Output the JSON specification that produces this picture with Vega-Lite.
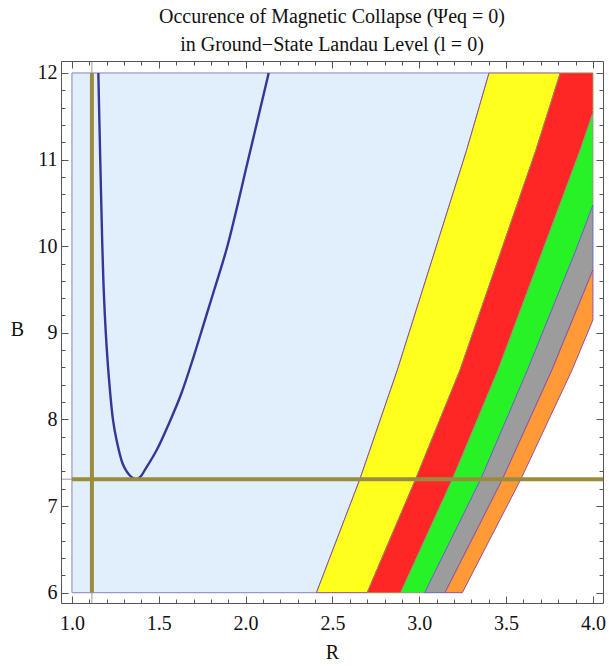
{
  "$schema": "https://vega.github.io/schema/vega-lite/v6.json",
  "width": 542,
  "height": 542,
  "autosize": "none",
  "padding": {"left": 61, "top": 61, "right": 6, "bottom": 63},
  "background": "white",
  "title": {
    "text": ["Occurence of Magnetic Collapse (Ψeq = 0)", "in Ground−State Landau Level (l = 0)"],
    "font": "Liberation Serif",
    "fontSize": 20,
    "fontWeight": "normal",
    "color": "#111",
    "anchor": "middle",
    "offset": 6,
    "lineHeight": 28
  },
  "config": {
    "view": {"stroke": null},
    "axis": {
      "labelFont": "Liberation Serif",
      "titleFont": "Liberation Serif",
      "labelFontSize": 20,
      "titleFontSize": 20,
      "titleFontWeight": "normal",
      "labelColor": "#111",
      "titleColor": "#111",
      "domainColor": "#555",
      "tickColor": "#555",
      "grid": false
    }
  },
  "datasets": {
    "poly": [
      {"b": "blue", "o": 1, "x": 1, "y": 6},
      {"b": "blue", "o": 2, "x": 2.408, "y": 6},
      {"b": "blue", "o": 3, "x": 2.658, "y": 7.31},
      {"b": "blue", "o": 4, "x": 2.874, "y": 8.572},
      {"b": "blue", "o": 5, "x": 3.273, "y": 11.11},
      {"b": "blue", "o": 6, "x": 3.402, "y": 12},
      {"b": "blue", "o": 7, "x": 1, "y": 12},
      {"b": "blue", "o": 8, "x": 1, "y": 6},
      {"b": "yellow", "o": 1, "x": 2.408, "y": 6},
      {"b": "yellow", "o": 2, "x": 2.7, "y": 6},
      {"b": "yellow", "o": 3, "x": 2.979, "y": 7.31},
      {"b": "yellow", "o": 4, "x": 3.235, "y": 8.572},
      {"b": "yellow", "o": 5, "x": 3.672, "y": 11.11},
      {"b": "yellow", "o": 6, "x": 3.812, "y": 12},
      {"b": "yellow", "o": 7, "x": 3.402, "y": 12},
      {"b": "yellow", "o": 8, "x": 3.273, "y": 11.11},
      {"b": "yellow", "o": 9, "x": 2.874, "y": 8.572},
      {"b": "yellow", "o": 10, "x": 2.658, "y": 7.31},
      {"b": "yellow", "o": 11, "x": 2.408, "y": 6},
      {"b": "red", "o": 1, "x": 2.7, "y": 6},
      {"b": "red", "o": 2, "x": 2.893, "y": 6},
      {"b": "red", "o": 3, "x": 3.191, "y": 7.31},
      {"b": "red", "o": 4, "x": 3.454, "y": 8.572},
      {"b": "red", "o": 5, "x": 3.927, "y": 11.11},
      {"b": "red", "o": 6, "x": 4, "y": 11.54},
      {"b": "red", "o": 7, "x": 4, "y": 12},
      {"b": "red", "o": 8, "x": 3.812, "y": 12},
      {"b": "red", "o": 9, "x": 3.672, "y": 11.11},
      {"b": "red", "o": 10, "x": 3.235, "y": 8.572},
      {"b": "red", "o": 11, "x": 2.979, "y": 7.31},
      {"b": "red", "o": 12, "x": 2.7, "y": 6},
      {"b": "green", "o": 1, "x": 2.893, "y": 6},
      {"b": "green", "o": 2, "x": 3.031, "y": 6},
      {"b": "green", "o": 3, "x": 3.354, "y": 7.31},
      {"b": "green", "o": 4, "x": 3.623, "y": 8.572},
      {"b": "green", "o": 5, "x": 3.902, "y": 9.956},
      {"b": "green", "o": 6, "x": 4, "y": 10.475},
      {"b": "green", "o": 7, "x": 4, "y": 11.54},
      {"b": "green", "o": 8, "x": 3.927, "y": 11.11},
      {"b": "green", "o": 9, "x": 3.454, "y": 8.572},
      {"b": "green", "o": 10, "x": 3.191, "y": 7.31},
      {"b": "green", "o": 11, "x": 2.893, "y": 6},
      {"b": "gray", "o": 1, "x": 3.031, "y": 6},
      {"b": "gray", "o": 2, "x": 3.148, "y": 6},
      {"b": "gray", "o": 3, "x": 3.479, "y": 7.31},
      {"b": "gray", "o": 4, "x": 3.556, "y": 7.65},
      {"b": "gray", "o": 5, "x": 3.764, "y": 8.572},
      {"b": "gray", "o": 6, "x": 4, "y": 9.725},
      {"b": "gray", "o": 7, "x": 4, "y": 10.475},
      {"b": "gray", "o": 8, "x": 3.902, "y": 9.956},
      {"b": "gray", "o": 9, "x": 3.623, "y": 8.572},
      {"b": "gray", "o": 10, "x": 3.354, "y": 7.31},
      {"b": "gray", "o": 11, "x": 3.031, "y": 6},
      {"b": "orange", "o": 1, "x": 3.148, "y": 6},
      {"b": "orange", "o": 2, "x": 3.248, "y": 6},
      {"b": "orange", "o": 3, "x": 3.585, "y": 7.31},
      {"b": "orange", "o": 4, "x": 3.88, "y": 8.572},
      {"b": "orange", "o": 5, "x": 4, "y": 9.149},
      {"b": "orange", "o": 6, "x": 4, "y": 9.725},
      {"b": "orange", "o": 7, "x": 3.764, "y": 8.572},
      {"b": "orange", "o": 8, "x": 3.556, "y": 7.65},
      {"b": "orange", "o": 9, "x": 3.479, "y": 7.31},
      {"b": "orange", "o": 10, "x": 3.148, "y": 6}
    ],
    "curve": [
      {"o": 1, "x": 1.152, "y": 12},
      {"o": 2, "x": 1.163, "y": 11},
      {"o": 3, "x": 1.175, "y": 10},
      {"o": 4, "x": 1.183, "y": 9.5},
      {"o": 5, "x": 1.195, "y": 9.0},
      {"o": 6, "x": 1.212, "y": 8.5},
      {"o": 7, "x": 1.236, "y": 8.0},
      {"o": 8, "x": 1.258, "y": 7.75},
      {"o": 9, "x": 1.29, "y": 7.5},
      {"o": 10, "x": 1.315, "y": 7.4},
      {"o": 11, "x": 1.34, "y": 7.34},
      {"o": 12, "x": 1.369, "y": 7.31},
      {"o": 13, "x": 1.395, "y": 7.34},
      {"o": 14, "x": 1.421, "y": 7.42},
      {"o": 15, "x": 1.489, "y": 7.65},
      {"o": 16, "x": 1.56, "y": 7.96},
      {"o": 17, "x": 1.63, "y": 8.3},
      {"o": 18, "x": 1.7, "y": 8.72},
      {"o": 19, "x": 1.76, "y": 9.11},
      {"o": 20, "x": 1.82, "y": 9.5},
      {"o": 21, "x": 1.895, "y": 10},
      {"o": 22, "x": 2.015, "y": 11},
      {"o": 23, "x": 2.133, "y": 12}
    ],
    "olive": [
      {"x": 1.115, "x2": 1.115, "y": 6, "y2": 12},
      {"x": 1.0, "x2": 4.058, "y": 7.31, "y2": 7.31}
    ],
    "gridx": [{"v": 1.115}],
    "gridy": [{"v": 7.31}]
  },
  "resolve": {"axis": {"x": "independent", "y": "independent"}},
  "layer": [
    {
      "data": {"name": "gridx"},
      "mark": {"type": "rule", "color": "#9a9a9a", "strokeWidth": 1},
      "encoding": {
        "x": {"field": "v", "type": "quantitative", "scale": {"domain": [0.937, 4.058], "nice": false, "zero": false}, "axis": null}
      }
    },
    {
      "data": {"name": "gridy"},
      "mark": {"type": "rule", "color": "#9a9a9a", "strokeWidth": 1},
      "encoding": {
        "y": {"field": "v", "type": "quantitative", "scale": {"domain": [5.881, 12.138], "nice": false, "zero": false}, "axis": null}
      }
    },
    {
      "data": {"name": "poly"},
      "transform": [{"filter": "datum.b === 'blue'"}],
      "mark": {"type": "line", "fill": "#e1effc", "stroke": "#8282c8", "strokeWidth": 1},
      "encoding": {
        "x": {"field": "x", "type": "quantitative", "scale": {"domain": [0.937, 4.058], "nice": false, "zero": false},
          "axis": {"orient": "bottom", "values": [1, 1.5, 2, 2.5, 3, 3.5, 4], "format": ".1f", "tickSize": -7, "labelPadding": 17, "title": "R", "titlePadding": 9, "zindex": 2}},
        "y": {"field": "y", "type": "quantitative", "scale": {"domain": [5.881, 12.138], "nice": false, "zero": false},
          "axis": {"orient": "left", "values": [6, 7, 8, 9, 10, 11, 12], "format": "d", "tickSize": -7, "labelPadding": 11, "title": "B", "titleAngle": 0, "titleAlign": "center", "titleBaseline": "middle", "titleX": -44, "titleY": 268, "zindex": 2}},
        "order": {"field": "o", "type": "quantitative"}
      }
    },
    {
      "data": {"name": "poly"},
      "transform": [{"filter": "datum.b === 'yellow'"}],
      "mark": {"type": "line", "fill": "#ffff1e", "stroke": "#8c4c9c", "strokeWidth": 1},
      "encoding": {
        "x": {"field": "x", "type": "quantitative",
          "axis": {"orient": "top", "values": [1, 1.5, 2, 2.5, 3, 3.5, 4], "tickSize": -7, "labels": false, "title": null, "zindex": 2}},
        "y": {"field": "y", "type": "quantitative",
          "axis": {"orient": "right", "values": [6, 7, 8, 9, 10, 11, 12], "tickSize": -7, "labels": false, "title": null, "zindex": 2}},
        "order": {"field": "o", "type": "quantitative"}
      }
    },
    {
      "data": {"name": "poly"},
      "transform": [{"filter": "datum.b === 'red'"}],
      "mark": {"type": "line", "fill": "#ff2626", "stroke": "#a08850", "strokeWidth": 1},
      "encoding": {
        "x": {"field": "x", "type": "quantitative",
          "axis": {"orient": "bottom", "values": [1.1, 1.2, 1.3, 1.4, 1.6, 1.7, 1.8, 1.9, 2.1, 2.2, 2.3, 2.4, 2.6, 2.7, 2.8, 2.9, 3.1, 3.2, 3.3, 3.4, 3.6, 3.7, 3.8, 3.9], "tickSize": -4, "labels": false, "domain": false, "title": null, "zindex": 2}},
        "y": {"field": "y", "type": "quantitative",
          "axis": {"orient": "left", "values": [6.2, 6.4, 6.6, 6.8, 7.2, 7.4, 7.6, 7.8, 8.2, 8.4, 8.6, 8.8, 9.2, 9.4, 9.6, 9.8, 10.2, 10.4, 10.6, 10.8, 11.2, 11.4, 11.6, 11.8], "tickSize": -4, "labels": false, "domain": false, "title": null, "zindex": 2}},
        "order": {"field": "o", "type": "quantitative"}
      }
    },
    {
      "data": {"name": "poly"},
      "transform": [{"filter": "datum.b === 'green'"}],
      "mark": {"type": "line", "fill": "#26f226", "stroke": "#8a9a78", "strokeWidth": 1},
      "encoding": {
        "x": {"field": "x", "type": "quantitative",
          "axis": {"orient": "top", "values": [1.1, 1.2, 1.3, 1.4, 1.6, 1.7, 1.8, 1.9, 2.1, 2.2, 2.3, 2.4, 2.6, 2.7, 2.8, 2.9, 3.1, 3.2, 3.3, 3.4, 3.6, 3.7, 3.8, 3.9], "tickSize": -4, "labels": false, "domain": false, "title": null, "zindex": 2}},
        "y": {"field": "y", "type": "quantitative",
          "axis": {"orient": "right", "values": [6.2, 6.4, 6.6, 6.8, 7.2, 7.4, 7.6, 7.8, 8.2, 8.4, 8.6, 8.8, 9.2, 9.4, 9.6, 9.8, 10.2, 10.4, 10.6, 10.8, 11.2, 11.4, 11.6, 11.8], "tickSize": -4, "labels": false, "domain": false, "title": null, "zindex": 2}},
        "order": {"field": "o", "type": "quantitative"}
      }
    },
    {
      "data": {"name": "poly"},
      "transform": [{"filter": "datum.b === 'gray'"}],
      "mark": {"type": "line", "fill": "#9c9c9c", "stroke": "#5c6cc0", "strokeWidth": 1},
      "encoding": {
        "x": {"field": "x", "type": "quantitative", "axis": null},
        "y": {"field": "y", "type": "quantitative", "axis": null},
        "order": {"field": "o", "type": "quantitative"}
      }
    },
    {
      "data": {"name": "poly"},
      "transform": [{"filter": "datum.b === 'orange'"}],
      "mark": {"type": "line", "fill": "#ff9a36", "stroke": "#9450a4", "strokeWidth": 1},
      "encoding": {
        "x": {"field": "x", "type": "quantitative", "axis": null},
        "y": {"field": "y", "type": "quantitative", "axis": null},
        "order": {"field": "o", "type": "quantitative"}
      }
    },
    {
      "data": {"name": "curve"},
      "mark": {"type": "line", "color": "#34369a", "strokeWidth": 2.4, "interpolate": "catmull-rom"},
      "encoding": {
        "x": {"field": "x", "type": "quantitative", "axis": null},
        "y": {"field": "y", "type": "quantitative", "axis": null},
        "order": {"field": "o", "type": "quantitative"}
      }
    },
    {
      "data": {"name": "olive"},
      "mark": {"type": "rule", "color": "#9a8c3e", "strokeWidth": 4},
      "encoding": {
        "x": {"field": "x", "type": "quantitative", "axis": null},
        "x2": {"field": "x2"},
        "y": {"field": "y", "type": "quantitative", "axis": null},
        "y2": {"field": "y2"}
      }
    }
  ]
}
